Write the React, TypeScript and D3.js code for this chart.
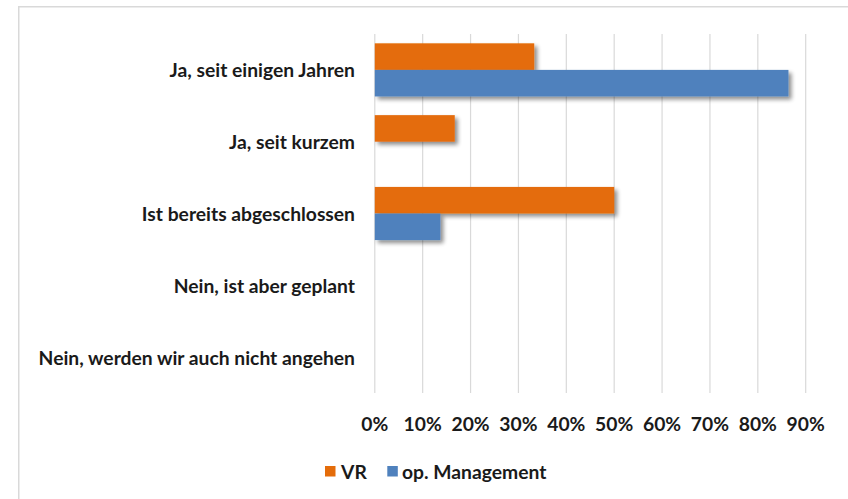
import React from "react";
import * as d3 from "d3";

const categories = [
  "Ja, seit einigen Jahren",
  "Ja, seit kurzem",
  "Ist bereits abgeschlossen",
  "Nein, ist aber geplant",
  "Nein, werden wir auch nicht angehen",
];
const seriesNames = ["VR", "op. Management"];
const vrValues = [0.333, 0.167, 0.5, 0, 0];
const mgmtValues = [0.864, 0, 0.137, 0, 0];
const xTicks = [0, 0.1, 0.2, 0.3, 0.4, 0.5, 0.6, 0.7, 0.8, 0.9];
const colors = ["#E46C0A", "#4F81BD"];

const W = 848;
const H = 499;
const FONT = "Lato, 'Open Sans', sans-serif";
const FS = 19.3;

export default function App() {
  const x = d3.scaleLinear().domain([0, 0.9]).range([374.8, 805.7]);
  const y = d3.scaleBand().domain(categories).range([34, 393]).paddingInner(0.26).paddingOuter(0.13);
  const sub = d3.scaleBand().domain(seriesNames).range([0, y.bandwidth()]);
  const series = [vrValues, mgmtValues];

  return (
    <svg width={W} height={H} style={{ position: "absolute", left: 0, top: 0, background: "#fff" }}>
      <defs>
        <filter id="sh" x="-10%" y="-20%" width="130%" height="160%">
          <feGaussianBlur in="SourceAlpha" stdDeviation="2" />
          <feOffset dx="3" dy="3" result="b" />
          <feComponentTransfer>
            <feFuncA type="linear" slope="0.45" />
          </feComponentTransfer>
          <feMerge>
            <feMergeNode />
            <feMergeNode in="SourceGraphic" />
          </feMerge>
        </filter>
      </defs>
      <rect x={0} y={0} width={W} height={H} fill="#fff" />
      <rect x={18.75} y={6.75} width={W + 10} height={H + 10} fill="none" stroke="#d9d9d9" strokeWidth={1.5} />
      {xTicks.map((t) => (
        <line key={t} x1={x(t)} x2={x(t)} y1={34} y2={393} stroke="#d9d9d9" strokeWidth={1.2} />
      ))}
      {series.map((vals, si) =>
        categories.map((c, ci) =>
          vals[ci] > 0 ? (
            <rect
              key={si + "-" + ci}
              x={x(0)}
              y={(y(c) as number) + (sub(seriesNames[si]) as number)}
              width={x(vals[ci]) - x(0)}
              height={sub.bandwidth()}
              fill={colors[si]}
              filter="url(#sh)"
            />
          ) : null
        )
      )}
      {categories.map((c) => (
        <text
          key={c}
          x={355}
          y={(y(c) as number) + y.bandwidth() / 2}
          textAnchor="end"
          dominantBaseline="central"
          fontFamily={FONT}
          fontWeight="bold"
          fontSize={FS}
          fill="#1a1a1a"
        >
          {c}
        </text>
      ))}
      {xTicks.map((t) => (
        <text
          key={"l" + t}
          x={x(t)}
          y={423}
          textAnchor="middle"
          dominantBaseline="central"
          fontFamily={FONT}
          fontWeight="bold"
          fontSize={FS}
          fill="#1a1a1a"
        >
          {d3.format(".0%")(t)}
        </text>
      ))}
      <rect x={325} y={466} width={10.5} height={10.5} fill={colors[0]} />
      <text x={341} y={471.5} dominantBaseline="central" fontFamily={FONT} fontWeight="bold" fontSize={FS} fill="#1a1a1a">
        {seriesNames[0]}
      </text>
      <rect x={387.3} y={466} width={10.5} height={10.5} fill={colors[1]} />
      <text x={402} y={471.5} dominantBaseline="central" fontFamily={FONT} fontWeight="bold" fontSize={FS} fill="#1a1a1a">
        {seriesNames[1]}
      </text>
    </svg>
  );
}
